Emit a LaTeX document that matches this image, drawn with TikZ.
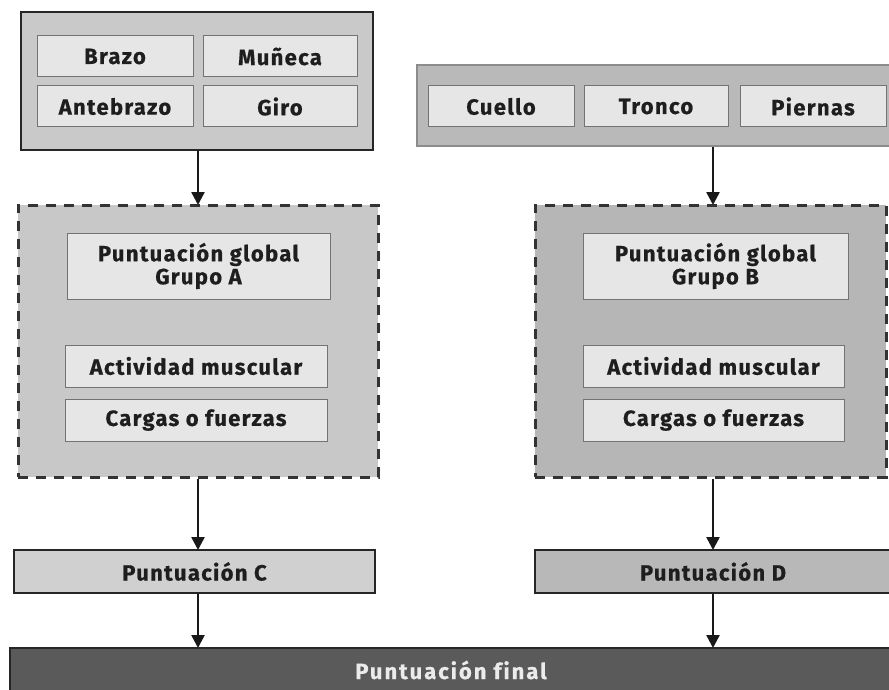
\documentclass[tikz,border=0pt]{standalone}
\usepackage{fontspec}
\setmainfont{Fira Sans}
\newfontfamily\labfont{Fira Sans}[LetterSpace=6, BoldFeatures={FakeBold=0.6}]
\newfontfamily\finfont{Fira Sans}[LetterSpace=9, Ligatures=NoCommon, BoldFeatures={FakeBold=0.6}]
\usetikzlibrary{arrows.meta,calc}
\definecolor{outerA}{HTML}{C9C9C9}
\definecolor{outerB}{HTML}{B9B9B9}
\definecolor{innerc}{HTML}{E6E6E6}
\definecolor{dashA}{HTML}{C8C8C8}
\definecolor{dashB}{HTML}{B6B6B6}
\definecolor{puntC}{HTML}{D0D0D0}
\definecolor{puntD}{HTML}{B8B8B8}
\definecolor{finalc}{HTML}{5A5A5A}
\definecolor{txt}{HTML}{1E1E1E}
\tikzset{
  every node/.style={inner sep=0pt, outer sep=0pt},
  lab/.style={font=\labfont\bfseries\fontsize{22}{23}\selectfont},
  innerbox/.style={lab, draw=black!55, line width=1pt, fill=innerc, text=txt, align=center},
  dashbox/.style={draw=black!80, line width=3pt, dash pattern=on 10pt off 8pt},
  arr/.style={draw=black!90, line width=2.5pt, -{Triangle[length=13pt,width=13pt]}},
  puntbox/.style={lab, draw=black!85, line width=2pt, text=txt},
}
\begin{document}
\begin{tikzpicture}[x=1pt,y=-1pt]
\useasboundingbox (0,0) rectangle (889,690);
\fill[white] (0,0) rectangle (889,690);
% top left group
\node[draw=black!85, line width=2.5pt, fill=outerA, minimum width=352pt, minimum height=138pt] (topL) at (197,81) {};
\node[innerbox, minimum width=156pt, minimum height=41pt] (brazo) at (115,56.5) {Brazo};
\node[innerbox, minimum width=154pt, minimum height=41pt] (muneca) at (280,56.5) {Muñeca};
\node[innerbox, minimum width=156pt, minimum height=41pt] (antebrazo) at (115,106.5) {Antebrazo};
\node[innerbox, minimum width=154pt, minimum height=41pt] (giro) at (280,106.5) {Giro};
% top right group
\node[draw=black!45, line width=1.5pt, fill=outerB, minimum width=475pt, minimum height=81pt] (topR) at (654.5,105.5) {};
\node[innerbox, minimum width=146pt, minimum height=41pt] (cuello) at (501,106.5) {Cuello};
\node[innerbox, minimum width=144pt, minimum height=41pt] (tronco) at (656,106.5) {Tronco};
\node[innerbox, minimum width=146pt, minimum height=41pt] (piernas) at (813,106.5) {Piernas};
% dashed groups
\node[dashbox, fill=dashA, minimum width=360pt, minimum height=272pt] (grpA) at (198,341) {};
\node[innerbox, minimum width=263pt, minimum height=66pt] (pga) at (198.5,266) {Puntuación global\\Grupo A};
\node[innerbox, minimum width=262pt, minimum height=42pt] (acta) at (196,366) {Actividad muscular};
\node[innerbox, minimum width=262pt, minimum height=42pt] (cara) at (196,420) {Cargas o fuerzas};
\node[dashbox, fill=dashB, minimum width=351pt, minimum height=272pt] (grpB) at (710.5,341) {};
\node[innerbox, minimum width=265pt, minimum height=66pt] (pgb) at (715.5,266) {Puntuación global\\Grupo B};
\node[innerbox, minimum width=261pt, minimum height=42pt] (actb) at (713.5,366) {Actividad muscular};
\node[innerbox, minimum width=261pt, minimum height=42pt] (carb) at (713.5,420) {Cargas o fuerzas};
% scores
\node[puntbox, fill=puntC, minimum width=361pt, minimum height=43pt] (pc) at (194.5,571.5) {Puntuación C};
\node[puntbox, fill=puntD, minimum width=356pt, minimum height=43pt] (pd) at (713,571.5) {Puntuación D};
\node[font=\finfont\bfseries\fontsize{22}{23}\selectfont, draw=black!85, line width=2pt, fill=finalc, text=white!92!black, minimum width=882pt, minimum height=44pt] (fin) at (451,670) {Puntuación final};
% arrows
\coordinate (a1s) at ($(topL.south)+(1,1)$);
\draw[arr] (a1s) -- (a1s |- grpA.north);
\coordinate (a2s) at ($(grpB.north |- topR.south)+(2.5,1)$);
\draw[arr] (a2s) -- (a2s |- grpB.north);
\coordinate (a3s) at ($(grpA.south)+(0,2)$);
\draw[arr] (a3s) -- (a3s |- pc.north);
\coordinate (a4s) at ($(grpB.south)+(2.5,2)$);
\draw[arr] (a4s) -- (a4s |- pd.north);
\coordinate (a5s) at ($(pc.south -| a3s)+(0,1)$);
\draw[arr] (a5s) -- (a5s |- fin.north);
\coordinate (a6s) at ($(pd.south -| a4s)+(0,1)$);
\draw[arr] (a6s) -- (a6s |- fin.north);
\end{tikzpicture}
\end{document}
